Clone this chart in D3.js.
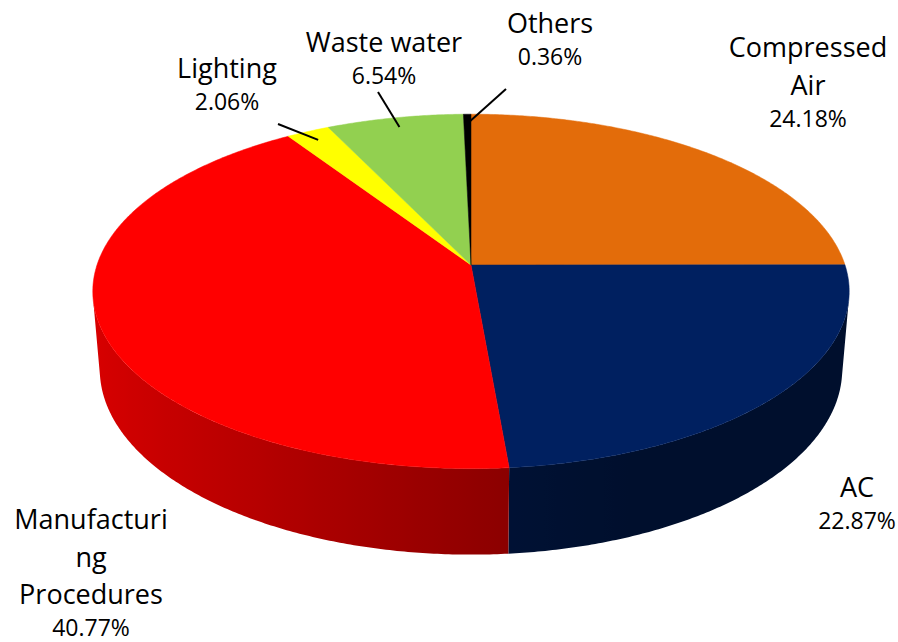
<!DOCTYPE html>
<html>
<head>
<meta charset="utf-8">
<script src="https://cdn.jsdelivr.net/npm/d3@7"></script>
<style>
  body { margin: 0; background: #fff; }
  text { font-family: "Open Sans", sans-serif; fill: #000; }
</style>
</head>
<body>
<div id="chart"></div>
<script>
// data, clockwise from 12 o'clock as in the original chart
var categories = ["Compressed Air", "AC", "Manufacturing Procedures", "Lighting", "Waste water", "Others"];
var values = [24.18, 22.87, 40.77, 2.06, 6.54, 0.36];
var valueLabels = ["24.18%", "22.87%", "40.77%", "2.06%", "6.54%", "0.36%"];
var nameLines = [["Compressed", "Air"], ["AC"], ["Manufacturi", "ng", "Procedures"], ["Lighting"], ["Waste water"], ["Others"]];
var colors = ["#e36c0a", "#002060", "#ff0000", "#ffff00", "#92d050", "#000000"];

// label layout (first baseline) and leader line ends
var labelPos = [[808, 57], [857, 497], [91, 529], [227, 78], [384, 52], [550, 33]];
var leaderEnds = [null, null, null, [278, 124], [378, 92], [506, 89]];

var width = 898, height = 642;
var cx = 471, cy = 265, radiusPx = 374;
var tilt = 27.6 * Math.PI / 180;
var camDist = 5.95;     // in pie radii
var thickness = 0.237;  // in pie radii

var x = d3.scaleLinear().domain([-1, 1]).range([cx - radiusPx, cx + radiusPx]);
var y = d3.scaleLinear().domain([-1, 1]).range([cy + radiusPx, cy - radiusPx]);

// perspective projection of a point on the pie (angle clockwise from the back)
function project(angle, r, h) {
  var X = r * Math.sin(angle), Z = -r * Math.cos(angle);
  var vy = -Z * Math.sin(tilt) + h * Math.cos(tilt);
  var vz = Z * Math.cos(tilt) + h * Math.sin(tilt);
  var k = camDist / (camDist - vz);
  return [x(X * k), y(vy * k)];
}

function shade(color, angle) {
  var f = Math.max(0.47, 0.57 - 0.286 * Math.sin(angle));
  var c = d3.rgb(color);
  return d3.rgb(c.r * f, c.g * f, c.b * f).formatHex();
}

var svg = d3.select("#chart").append("svg")
  .attr("width", width)
  .attr("height", height);

svg.append("rect").attr("width", width).attr("height", height).attr("fill", "#fff");
var defs = svg.append("defs");

var arcs = d3.pie().sort(null).value(function(d) { return d; })(values);
var line = d3.line();

// visible part of the outer wall
var edge = Math.acos(-1 / (camDist * Math.cos(tilt)));
var vis0 = edge, vis1 = 2 * Math.PI - edge;
var step = Math.PI / 360;

var walls = svg.append("g");
arcs.forEach(function(a, i) {
  var a0 = Math.max(a.startAngle, vis0), a1 = Math.min(a.endAngle, vis1);
  if (a1 <= a0) return;
  var n = Math.max(2, Math.ceil((a1 - a0) / step));
  var topPts = [], botPts = [], angles = [];
  for (var j = 0; j <= n; j++) {
    var t = a0 + (a1 - a0) * j / n;
    angles.push(t);
    topPts.push(project(t, 1, 0));
    botPts.push(project(t, 1, -thickness));
  }
  var xa = topPts[0][0], xb = topPts[n][0];
  var grad = defs.append("linearGradient")
    .attr("id", "wall" + i)
    .attr("gradientUnits", "userSpaceOnUse")
    .attr("x1", xa).attr("y1", 0)
    .attr("x2", xb).attr("y2", 0);
  for (var k = 0; k <= n; k += 4) {
    grad.append("stop")
      .attr("offset", (topPts[k][0] - xa) / (xb - xa))
      .attr("stop-color", shade(colors[i], angles[k]));
  }
  walls.append("path")
    .attr("d", line(topPts.concat(botPts.reverse())) + "Z")
    .attr("fill", "url(#wall" + i + ")");
});

var tops = svg.append("g");
arcs.forEach(function(a, i) {
  var pts = [project(0, 0, 0)];
  var n = Math.max(2, Math.ceil((a.endAngle - a.startAngle) / step));
  for (var j = 0; j <= n; j++) {
    pts.push(project(a.startAngle + (a.endAngle - a.startAngle) * j / n, 1, 0));
  }
  tops.append("path")
    .attr("d", line(pts) + "Z")
    .attr("fill", colors[i])
    .attr("stroke", colors[i])
    .attr("stroke-width", 0.5);
});

// leader lines
arcs.forEach(function(a, i) {
  if (!leaderEnds[i]) return;
  var p = project((a.startAngle + a.endAngle) / 2, 0.93, 0);
  svg.append("line")
    .attr("x1", leaderEnds[i][0]).attr("y1", leaderEnds[i][1])
    .attr("x2", p[0]).attr("y2", p[1])
    .attr("stroke", "#000")
    .attr("stroke-width", 2);
});

// labels
categories.forEach(function(c, i) {
  var g = svg.append("text").attr("text-anchor", "middle");
  var by = labelPos[i][1];
  nameLines[i].forEach(function(s, j) {
    g.append("tspan")
      .attr("x", labelPos[i][0])
      .attr("y", by + j * 37.5)
      .style("font-size", "27px")
      .text(s);
  });
  g.append("tspan")
    .attr("x", labelPos[i][0])
    .attr("y", by + (nameLines[i].length - 1) * 37.5 + 32)
    .style("font-size", "23px")
    .text(valueLabels[i]);
});
</script>
</body>
</html>
